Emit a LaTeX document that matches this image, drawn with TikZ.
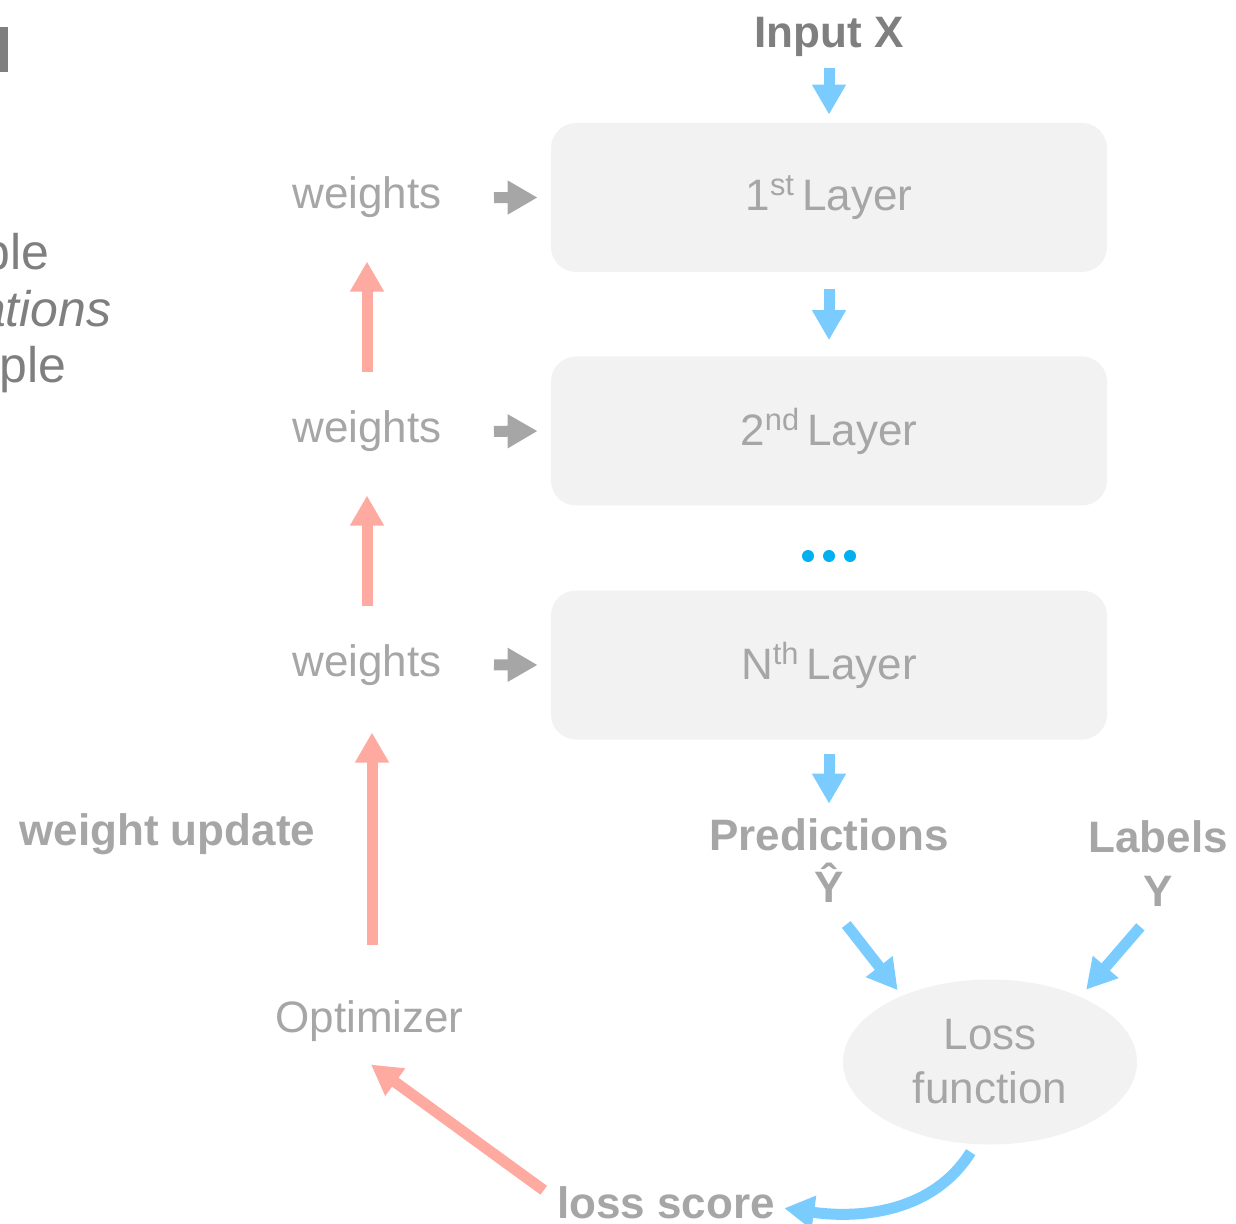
\documentclass[tikz,border=0pt]{standalone}
\usepackage{fontspec}
\setmainfont{Liberation Sans}
\usepackage{tikz}
\usetikzlibrary{positioning, arrows.meta, shapes.geometric, calc}
\definecolor{textgray}{RGB}{166,166,166}
\definecolor{midgray}{RGB}{127,127,127}
\definecolor{boxgray}{RGB}{242,242,242}
\definecolor{skyblue}{RGB}{122,204,255}
\definecolor{dotblue}{RGB}{0,176,240}
\definecolor{salmon}{RGB}{255,170,160}

\begin{document}
\begin{tikzpicture}[x=0.5pt, y=-0.5pt,
  every node/.style={inner sep=0pt, text=textgray, font=\fontsize{22pt}{25.5pt}\selectfont},
  layer/.style={fill=boxgray, rounded corners=12.5pt, minimum width=278pt, minimum height=74.5pt},
  lbl/.style={anchor=base},
  bold/.style={anchor=base, font=\fontsize{22pt}{25.5pt}\selectfont\bfseries},
  frag/.style={anchor=base east, text=midgray, font=\fontsize{25pt}{28.5pt}\selectfont},
  blk/.style={line width=5.5pt, -{Triangle[width=16pt, length=15pt]}},
  bluearr/.style={blk, draw=skyblue},
  pinkarr/.style={blk, draw=salmon},
  grayarr/.style={blk, draw=textgray}]
  \useasboundingbox (0,0) rectangle (1236,1224);
  \clip (0,0) rectangle (1236,1224);

  % cut-off text on the left
  \fill[midgray] (0,27) rectangle (8,72);
  \node[frag] (frag1) at (50,270) {ble};
  \node[frag, font=\fontsize{25pt}{28.5pt}\selectfont\itshape] (frag2) at (112,327) {ations};
  \node[frag] (frag3) at (67,383) {mple};

  % network
  \node[bold, text=midgray] (input) at (829,48) {Input X};
  \node[layer] (l1) at (829,197.5) {1\textsuperscript{st}\,Layer};
  \node[layer] (l2) at (829,431) {2\textsuperscript{nd}\,Layer};
  \node[layer] (l3) at (829,665) {N\textsuperscript{th}\,Layer};
  \foreach \dx in {-21,0,21}
    \fill[dotblue] (829+\dx,556) circle (3pt);

  \node[lbl] (w1) at (367,209) {weights};
  \node[lbl] (w2) at (367,443) {weights};
  \node[lbl] (w3) at (367,676) {weights};

  \node[bold] (pred) at (829,850) {Predictions};
  \node[bold] (yhat) at (829,902) {Ŷ};
  \node[bold] (labels) at (1158,852) {Labels};
  \node[bold] (ylab) at (1158,906) {Y};
  \node[ellipse, fill=boxgray, minimum width=147pt, minimum height=82.5pt, align=center,
    font=\fontsize{22pt}{27pt}\selectfont] (lossfn) at (990,1062) {Loss\\function};

  \node[lbl] (opt) at (369.5,1032) {Optimizer};
  \node[bold] (loss) at (666,1218) {loss score};
  \node[bold, anchor=base west] (upd) at (19,845) {weight update};

  % forward pass
  \draw[bluearr, shorten <=5pt, shorten >=4pt] (input) -- (l1);
  \draw[bluearr, shorten <=8.5pt, shorten >=8pt] (l1) -- (l2);
  \draw[bluearr, shorten <=7pt, shorten >=7pt] (l3) -- (pred);
  \draw[bluearr, shorten <=14pt, shorten >=3.4pt] (yhat.south) -- (lossfn.143);
  \draw[bluearr, shorten <=13.5pt, shorten >=4.5pt] (ylab.south) -- (lossfn.36);
  \draw[bluearr, shorten <=4.5pt] (lossfn.-100) to[out=-122, in=-8] ($(loss.east)+(9,6)$);

  \foreach \i in {1,2,3}
    \draw[grayarr, shorten <=26pt, shorten >=6.5pt] (w\i.east) -- (l\i.west);

  % backward pass
  \draw[pinkarr, shorten <=19.5pt, shorten >=21.5pt] (w2) -- (w1);
  \draw[pinkarr, shorten <=19pt, shorten >=21.5pt] (w3) -- (w2);
  \draw[pinkarr, shorten <=27.5pt, shorten >=23.5pt] ([xshift=1.25pt]opt.north) -- ([xshift=2.5pt]w3.south);
  \draw[pinkarr] ($(loss.west)+(-13,-12)$) -- ($(opt.south)+(1.5,23)$);
\end{tikzpicture}
\end{document}
